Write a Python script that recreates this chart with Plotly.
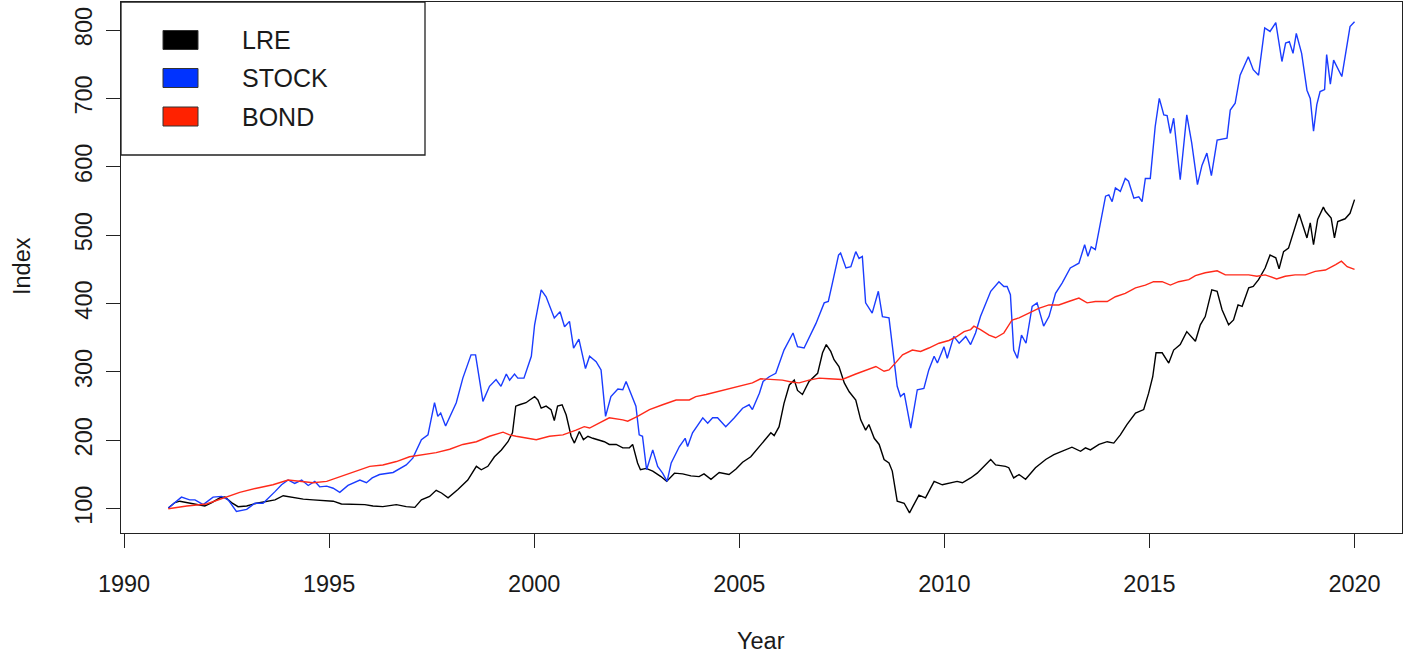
import plotly.graph_objects as go

# ---------------- data ----------------
stock_year = [1991.08, 1991.25, 1991.40, 1991.60, 1991.73, 1991.93, 1992.17, 1992.38, 1992.54, 1992.74,
              1992.99, 1993.19, 1993.39, 1993.68, 1993.84, 1994.00, 1994.16, 1994.33, 1994.49, 1994.65,
              1994.77, 1994.94, 1995.10, 1995.26, 1995.46, 1995.75, 1995.91, 1996.05, 1996.23, 1996.56,
              1996.88, 1997.04, 1997.25, 1997.41, 1997.57, 1997.65, 1997.72, 1997.84, 1998.10, 1998.26,
              1998.46, 1998.57, 1998.75, 1998.91, 1999.07, 1999.19, 1999.32, 1999.40, 1999.52, 1999.60,
              1999.75, 1999.93, 2000.01, 2000.17, 2000.29, 2000.49, 2000.63, 2000.74, 2000.86, 2000.96,
              2001.09, 2001.25, 2001.35, 2001.51, 2001.63, 2001.74, 2001.87, 2002.04, 2002.16, 2002.24,
              2002.36, 2002.48, 2002.56, 2002.64, 2002.74, 2002.89, 2003.01, 2003.13, 2003.24, 2003.34,
              2003.54, 2003.68, 2003.74, 2003.86, 2004.11, 2004.23, 2004.35, 2004.47, 2004.67, 2004.88,
              2005.08, 2005.24, 2005.32, 2005.49, 2005.58, 2005.73, 2005.89, 2006.09, 2006.31, 2006.42,
              2006.58, 2006.87, 2007.07, 2007.17, 2007.27, 2007.42, 2007.47, 2007.60, 2007.72, 2007.84,
              2007.92, 2008.00, 2008.08, 2008.24, 2008.39, 2008.49, 2008.65, 2008.85, 2008.93, 2009.02,
              2009.18, 2009.34, 2009.50, 2009.62, 2009.75, 2009.83, 2009.99, 2010.07, 2010.23, 2010.36,
              2010.52, 2010.64, 2010.76, 2010.88, 2011.13, 2011.33, 2011.45, 2011.53, 2011.61, 2011.69,
              2011.78, 2011.88, 2011.99, 2012.14, 2012.26, 2012.42, 2012.55, 2012.71, 2012.87, 2013.07,
              2013.28, 2013.42, 2013.50, 2013.58, 2013.68, 2013.93, 2014.01, 2014.09, 2014.17, 2014.29,
              2014.41, 2014.49, 2014.62, 2014.74, 2014.82, 2014.90, 2015.02, 2015.14, 2015.24, 2015.35,
              2015.43, 2015.51, 2015.59, 2015.75, 2015.91, 2016.03, 2016.17, 2016.28, 2016.40, 2016.51,
              2016.65, 2016.89, 2016.97, 2017.09, 2017.21, 2017.41, 2017.53, 2017.66, 2017.81, 2017.94,
              2018.08, 2018.23, 2018.32, 2018.41, 2018.50, 2018.58, 2018.71, 2018.84, 2018.92, 2019.00,
              2019.08, 2019.16, 2019.27, 2019.32, 2019.41, 2019.49, 2019.69, 2019.89, 2020.00]
stock_val = [101, 110, 117, 113, 113, 106, 117, 118, 113, 96,
             99, 108, 108, 125, 135, 142, 137, 142, 134, 140,
             132, 133, 130, 124, 134, 142, 138, 145, 150, 153,
             164, 174, 201, 208, 255, 235, 240, 221, 255, 291,
             325, 325, 257, 279, 289, 279, 297, 288, 297, 291,
             291, 323, 369, 420, 410, 379, 388, 366, 374, 335,
             348, 305, 323, 315, 303, 235, 264, 275, 274, 286,
             269, 250, 208, 206, 157, 186, 162, 152, 140, 167,
             191, 203, 191, 211, 233, 225, 233, 233, 220, 233,
             247, 252, 245, 269, 286, 293, 298, 332, 357, 337,
             335, 371, 401, 403, 430, 471, 474, 452, 454, 476,
             466, 469, 401, 386, 418, 381, 379, 279, 264, 269,
             218, 274, 276, 303, 323, 313, 337, 320, 352, 342,
             352, 340, 357, 381, 418, 432, 425, 425, 413, 332,
             320, 354, 342, 396, 401, 367, 381, 415, 430, 452,
             459, 486, 469, 483, 479, 557, 559, 549, 569, 564,
             583, 579, 554, 556, 549, 583, 583, 659, 700, 676,
             675, 649, 671, 581, 676, 635, 574, 602, 620, 587,
             639, 642, 683, 693, 734, 761, 742, 734, 803, 798,
             811, 754, 781, 783, 766, 795, 766, 712, 700, 652,
             691, 710, 713, 764, 721, 756, 732, 805, 812]

lre_year = [1991.08, 1991.24, 1991.36, 1991.53, 1991.77, 1991.97, 1992.14, 1992.34, 1992.46, 1992.62,
            1992.78, 1992.99, 1993.23, 1993.47, 1993.68, 1993.88, 1994.12, 1994.37, 1994.61, 1994.85,
            1995.10, 1995.30, 1995.58, 1995.87, 1996.07, 1996.31, 1996.64, 1996.88, 1997.09, 1997.25,
            1997.45, 1997.61, 1997.74, 1997.90, 1998.14, 1998.38, 1998.59, 1998.71, 1998.87, 1999.03,
            1999.20, 1999.36, 1999.47, 1999.55, 1999.64, 1999.80, 1999.89, 2000.01, 2000.09, 2000.17,
            2000.29, 2000.41, 2000.49, 2000.57, 2000.68, 2000.78, 2000.90, 2000.98, 2001.10, 2001.20,
            2001.31, 2001.43, 2001.71, 2001.83, 2002.00, 2002.16, 2002.32, 2002.40, 2002.52, 2002.59,
            2002.73, 2002.89, 2003.09, 2003.23, 2003.42, 2003.62, 2003.82, 2004.02, 2004.14, 2004.31,
            2004.51, 2004.75, 2004.92, 2005.08, 2005.28, 2005.49, 2005.65, 2005.77, 2005.85, 2005.97,
            2006.09, 2006.22, 2006.34, 2006.42, 2006.54, 2006.70, 2006.91, 2007.03, 2007.12, 2007.23,
            2007.31, 2007.43, 2007.56, 2007.68, 2007.84, 2007.96, 2008.08, 2008.16, 2008.29, 2008.41,
            2008.53, 2008.65, 2008.73, 2008.85, 2009.02, 2009.15, 2009.23, 2009.38, 2009.54, 2009.75,
            2009.95, 2010.19, 2010.31, 2010.44, 2010.64, 2010.80, 2010.96, 2011.13, 2011.25, 2011.49,
            2011.57, 2011.69, 2011.82, 2011.98, 2012.22, 2012.47, 2012.67, 2012.95, 2013.11, 2013.32,
            2013.44, 2013.56, 2013.77, 2013.97, 2014.13, 2014.29, 2014.45, 2014.66, 2014.86, 2014.98,
            2015.08, 2015.16, 2015.31, 2015.47, 2015.59, 2015.75, 2015.91, 2016.12, 2016.24, 2016.36,
            2016.52, 2016.65, 2016.77, 2016.93, 2017.05, 2017.16, 2017.26, 2017.42, 2017.53, 2017.66,
            2017.82, 2017.94, 2018.08, 2018.16, 2018.27, 2018.39, 2018.51, 2018.65, 2018.84, 2018.92,
            2019.00, 2019.10, 2019.24, 2019.29, 2019.43, 2019.51, 2019.59, 2019.77, 2019.89, 2020.00]
lre_val = [101, 109, 111, 109, 107, 104, 109, 116, 117, 109,
           103, 104, 108, 111, 113, 119, 116, 114, 113, 112,
           111, 107, 106, 106, 104, 103, 106, 103, 102, 113,
           118, 127, 123, 116, 128, 142, 162, 157, 162, 176,
           186, 198, 211, 250, 252, 255, 259, 264, 259, 247,
           250, 245, 229, 250, 252, 237, 206, 196, 213, 201,
           206, 203, 198, 194, 194, 189, 189, 194, 167, 157,
           159, 155, 147, 140, 152, 151, 148, 147, 151, 143,
           153, 150, 158, 168, 176, 191, 203, 211, 207, 220,
           254, 281, 288, 273, 267, 286, 298, 328, 340, 330,
           318, 308, 284, 271, 259, 230, 215, 223, 203, 194,
           172, 167, 155, 111, 108, 94, 103, 120, 116, 140,
           135, 138, 140, 138, 145, 152, 162, 172, 164, 162,
           160, 145, 150, 143, 160, 172, 179, 186, 190, 184,
           189, 186, 194, 198, 196, 208, 223, 240, 245, 269,
           293, 328, 328, 313, 332, 340, 359, 345, 369, 381,
           420, 418, 391, 369, 376, 398, 396, 423, 425, 435,
           452, 471, 467, 451, 476, 481, 503, 531, 496, 518,
           486, 523, 541, 535, 525, 496, 520, 524, 532, 552]

bond_year = [1991.08, 1991.53, 1992.01, 1992.46, 1992.82, 1993.23, 1993.63, 1994.00, 1994.29, 1994.61,
             1994.94, 1995.26, 1995.67, 1995.99, 1996.31, 1996.64, 1996.96, 1997.29, 1997.61, 1997.94,
             1998.26, 1998.59, 1998.91, 1999.24, 1999.40, 1999.56, 1999.89, 2000.05, 2000.37, 2000.70,
             2001.02, 2001.22, 2001.35, 2001.59, 2001.83, 2002.16, 2002.28, 2002.52, 2002.81, 2003.13,
             2003.46, 2003.78, 2003.94, 2004.19, 2004.67, 2004.99, 2005.32, 2005.52, 2005.81, 2006.05,
             2006.30, 2006.46, 2006.70, 2006.95, 2007.19, 2007.51, 2007.84, 2008.16, 2008.33, 2008.53,
             2008.65, 2008.82, 2008.98, 2009.22, 2009.42, 2009.62, 2009.87, 2010.11, 2010.31, 2010.48,
             2010.64, 2010.72, 2010.88, 2011.09, 2011.25, 2011.45, 2011.65, 2011.82, 2012.06, 2012.30,
             2012.55, 2012.79, 2013.03, 2013.28, 2013.48, 2013.68, 2013.97, 2014.17, 2014.41, 2014.66,
             2014.90, 2015.10, 2015.31, 2015.51, 2015.71, 2015.96, 2016.12, 2016.36, 2016.65, 2016.85,
             2017.09, 2017.42, 2017.62, 2017.82, 2018.10, 2018.31, 2018.55, 2018.80, 2019.04, 2019.29,
             2019.54, 2019.68, 2019.82, 2020.00]
bond_val = [100, 104, 107, 116, 124, 130, 135, 142, 140, 138,
            140, 147, 155, 162, 164, 169, 176, 179, 182, 187,
            194, 198, 206, 212, 208, 206, 203, 201, 206, 208,
            215, 220, 218, 225, 233, 230, 228, 235, 245, 252,
            259, 259, 264, 267, 274, 279, 284, 290, 289, 288,
            285, 284, 288, 291, 290, 289, 297, 304, 308, 301,
            303, 314, 325, 332, 330, 335, 342, 346, 352, 359,
            362, 367, 362, 354, 350, 357, 376, 379, 386, 393,
            398, 398, 403, 408, 401, 403, 403, 410, 415, 423,
            427, 432, 432, 427, 432, 435, 441, 445, 448, 442,
            442, 442, 440, 442, 436, 440, 442, 442, 447, 449,
            457, 462, 454, 450]

series_names = ["LRE", "STOCK", "BOND"]
line_colors = ["#000000", "#1a3cff", "#ff2a1a"]
swatch_colors = ["#000000", "#0033ff", "#ff2200"]

x_ticks = [1990, 1995, 2000, 2005, 2010, 2015, 2020]
y_ticks = [100, 200, 300, 400, 500, 600, 700, 800]

# ---------------- figure ----------------
W, H = 1406, 655
L, R, T, B = 121, 4, 2, 122
FONT = "Liberation Sans, Arial, Helvetica, sans-serif"
TXT = "#1a1a1a"

fig = go.Figure()
for name, xs, ys, col in zip(series_names,
                             [lre_year, stock_year, bond_year],
                             [lre_val, stock_val, bond_val],
                             line_colors):
    fig.add_trace(go.Scatter(x=xs, y=ys, mode="lines", name=name,
                             line=dict(color=col, width=1.4), showlegend=False))

axis_common = dict(showgrid=False, zeroline=False, showline=True, mirror=True,
                   linecolor="#222222", linewidth=1.3, ticks="outside", ticklen=14,
                   tickwidth=1.3, tickcolor="#222222", automargin=False,
                   tickfont=dict(family=FONT, size=23.5, color=TXT))

fig.update_layout(
    width=W, height=H,
    margin=dict(l=L, r=R, t=T, b=B, pad=0, autoexpand=False),
    paper_bgcolor="white", plot_bgcolor="white",
    xaxis=dict(range=[1989.926, 2021.157], tickvals=x_ticks,
               ticktext=[str(v) for v in x_ticks], ticklabelstandoff=16, **axis_common),
    yaxis=dict(range=[64.5, 841], tickvals=y_ticks,
               ticktext=[str(v) for v in y_ticks], tickangle=-90, ticklabelstandoff=4,
               **axis_common),
)

pw = W - L - R
ph = H - T - B


def px(xp):
    return (xp - L) / pw


def py(yp):
    return (H - B - yp) / ph


# axis titles
fig.add_annotation(text="Year", xref="paper", yref="paper", x=px(761), y=py(641),
                   showarrow=False, xanchor="center", yanchor="middle",
                   font=dict(family=FONT, size=23.5, color=TXT))
fig.add_annotation(text="Index", xref="paper", yref="paper", x=px(22), y=py(266),
                   showarrow=False, xanchor="center", yanchor="middle", textangle=-90,
                   font=dict(family=FONT, size=23.5, color=TXT))

# legend box (R style)
fig.add_shape(type="rect", xref="paper", yref="paper", x0=px(121), x1=px(425),
              y0=py(155), y1=py(2), line=dict(color="#222222", width=1.3),
              fillcolor="white", layer="above")
row_y = [40, 78, 116.5]
for name, col, yc in zip(series_names, swatch_colors, row_y):
    fig.add_shape(type="rect", xref="paper", yref="paper", x0=px(163), x1=px(198),
                  y0=py(yc + 9.5), y1=py(yc - 9.5), line=dict(color="#333333", width=1),
                  fillcolor=col, layer="above")
    fig.add_annotation(text=name, xref="paper", yref="paper", x=px(240), y=py(yc),
                       showarrow=False, xanchor="left", yanchor="middle",
                       font=dict(family=FONT, size=25, color=TXT))

fig.write_html(
    "out.html",
    config={"displayModeBar": False},
    post_script="document.body.style.margin='0';"
                "document.documentElement.style.overflow='hidden';"
                "document.body.style.overflow='hidden';",
)
